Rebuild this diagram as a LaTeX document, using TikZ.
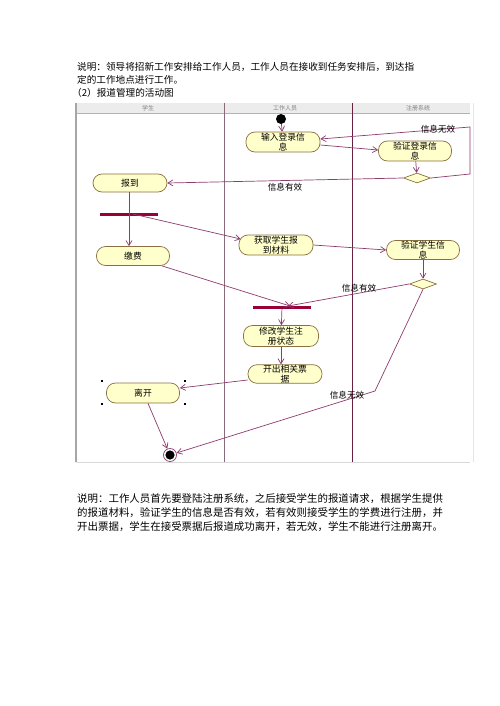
\documentclass[tikz,border=0pt]{standalone}
\usepackage{fontspec}
\setmainfont{Noto Sans CJK SC}
\usetikzlibrary{arrows.meta,shapes.geometric,calc}
\definecolor{lnc}{HTML}{8E3B6E}
\definecolor{barc}{HTML}{990038}
\definecolor{actfill}{HTML}{FFFFCC}
\definecolor{actdraw}{HTML}{8A7040}
\definecolor{laneA}{HTML}{8A6A7A}
\definecolor{laneB}{HTML}{6A2040}
\tikzset{
  act/.style={draw=actdraw, fill=actfill, rounded corners=9pt, inner sep=0pt,
    minimum width=74pt, minimum height=20pt, align=center,
    font=\fontsize{8.8}{10.5}\selectfont, line width=0.7pt},
  dec/.style={draw=actdraw, fill=actfill, diamond, inner sep=0pt,
    minimum width=27pt, minimum height=10pt, line width=0.7pt},
  barnode/.style={fill=barc, inner sep=0pt, minimum width=58pt, minimum height=3pt},
  arr/.style={draw=lnc, line width=0.7pt, -{Straight Barb[length=5pt,width=6pt]}},
  ln/.style={draw=lnc, line width=0.7pt},
  lbl/.style={font=\fontsize{8.6}{10}\selectfont, inner sep=0pt},
  hdr/.style={font=\fontsize{6}{7}\selectfont, text=gray, inner sep=0pt},
  txt/.style={anchor=west, inner sep=0pt},
  handle/.style={fill=black, inner sep=0pt, minimum size=2.5pt}
}
\begin{document}
\begin{tikzpicture}[x=1pt,y=-1pt]
\useasboundingbox (0,0) rectangle (500,706);
\fill[white] (0,0) rectangle (500,706);

% top text
\node[txt, font=\fontsize{9.63}{12}\selectfont] (t1) at (77,67) {说明：领导将招新工作安排给工作人员，工作人员在接收到任务安排后，到达指};
\node[txt, font=\fontsize{9.63}{12}\selectfont] (t2) at (77,80) {定的工作地点进行工作。};
\node[txt, font=\fontsize{9.63}{12}\selectfont] (t3) at (72,93) {（2）报道管理的活动图};

% frame
\fill[gray!15] (76,103) rectangle (470,113);
\draw[gray!60, line width=0.5pt] (76,113) -- (470,113);
\draw[gray!30, line width=0.5pt] (76,462) -- (470,462);
\draw[gray!20, line width=0.5pt] (473,103) -- (473,462);
\draw[gray!70, line width=1.4pt] (76,103) -- (76,462);
\draw[laneA, line width=0.8pt] (224,103) -- (224,462);
\draw[laneB, line width=0.9pt] (352,103) -- (352,462);
\node[hdr] (h1) at (148,108) {学生};
\node[hdr] (h2) at (285,108) {工作人员};
\node[hdr] (h3) at (418,108) {注册系统};

% activity nodes
\node[circle, fill=black, inner sep=0pt, minimum size=10pt] (start) at (281,119) {};
\node[act] (in1) at (283,142) {输入登录信\\息};
\node[act, minimum width=73pt] (ver1) at (415,151) {验证登录信\\息};
\node[dec] (d1) at (417,178) {};
\node[act, minimum height=18pt] (bd) at (130,183) {报到};
\node[barnode] (bar1) at (129,214) {};
\node[act, minimum width=73pt, minimum height=19pt] (jf) at (133,256) {缴费};
\node[act] (hq) at (276,245) {获取学生报\\到材料};
\node[act, minimum width=73pt, minimum height=19pt] (ver2) at (423,250) {验证学生信\\息};
\node[dec] (d2) at (423,284) {};
\node[barnode] (bar2) at (282,307) {};
\node[act, minimum width=75pt, minimum height=21pt] (xg) at (281,336) {修改学生注\\册状态};
\node[act, minimum height=18pt] (kc) at (285,374) {开出相关票\\据};
\node[act, minimum width=73pt] (lk) at (143,393) {离开};
\node[circle, draw=lnc, line width=0.7pt, inner sep=0pt, minimum size=13pt] (end) at (170,455) {};
\fill[black] (end.center) circle (4.6pt);

% selection handles
\node[handle] (s1) at (102,381) {};
\node[handle] (s2) at (185,381) {};
\node[handle] (s3) at (102,404) {};
\node[handle] (s4) at (185,404) {};

% connectors
\draw[arr] (start) -- (in1);
\draw[arr] ($(in1.east)+(0,3)$) -- ($(ver1.west)+(0,-1)$);
\draw[arr] (ver1) -- (d1);
\coordinate (c1) at (470,174);
\coordinate (c2) at (470,127);
\draw[arr] (d1.east) -- (c1) -- (c2) -- ($(in1.east)+(0,-3)$);
\node[lbl] (l1) at (438,129) {信息无效};
\draw[arr] (d1.west) -- (bd.east);
\node[lbl] (l2) at (285,187) {信息有效};
\draw[ln] (bd.south -| bar1) -- (bar1.center);
\draw[arr] (bar1.center) -- (jf.north -| bar1);
\draw[arr] ($(bar1.center)+(4,0)$) -- ($(hq.west)+(2,-6)$);
\draw[arr] (hq.east) -- (ver2.west);
\draw[arr] (ver2) -- (d2);
\draw[arr] (d2.west) -- ($(bar2.center)+(6,-1)$);
\node[lbl] (l3) at (359,288) {信息有效};
\draw[arr] ($(jf.south east)+(-8,0)$) -- ($(bar2.center)+(8,-1)$);
\draw[arr] (bar2) -- (xg);
\draw[arr] (xg) -- (kc.north -| xg);
\draw[arr] ($(kc.west)+(0,6)$) -- ($(lk.east)+(0,-5)$);
\draw[arr] ($(lk.south)+(5,0)$) -- (end);
\coordinate (c3) at (375,391);
\draw[arr] (d2.south) -- (c3) -- (end);
\node[lbl] (l4) at (347,395) {信息无效};

% bottom text
\node[txt, font=\fontsize{10.45}{13}\selectfont] (b1) at (77,499) {说明：工作人员首先要登陆注册系统，之后接受学生的报道请求，根据学生提供};
\node[txt, font=\fontsize{10.45}{13}\selectfont] (b2) at (77,513) {的报道材料，验证学生的信息是否有效，若有效则接受学生的学费进行注册，并};
\node[txt, font=\fontsize{10.45}{13}\selectfont] (b3) at (77,527) {开出票据，学生在接受票据后报道成功离开，若无效，学生不能进行注册离开。};
\end{tikzpicture}
\end{document}
